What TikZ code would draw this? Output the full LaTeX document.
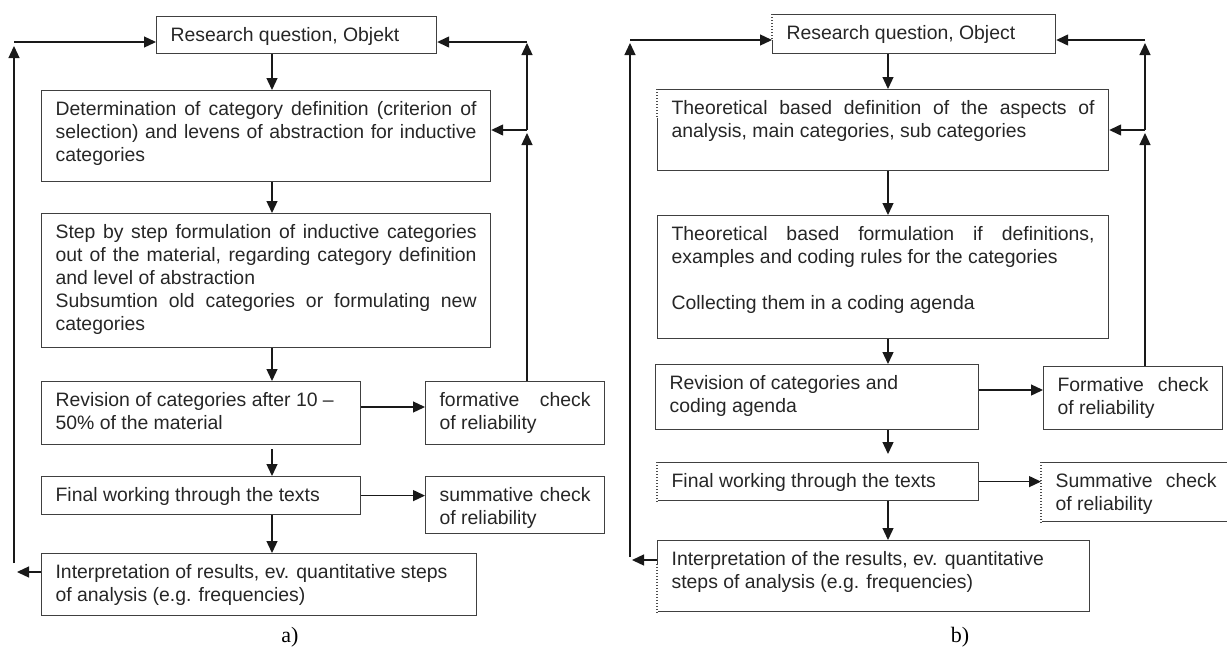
\documentclass[tikz,border=0pt]{standalone}
\usepackage{fontspec}
\setmainfont{Liberation Sans}
\newfontfamily\capfont{Liberation Serif}
\usepackage{tikz}
\usetikzlibrary{arrows.meta,calc}
\tolerance=10000
\hbadness=10000

% left edge of a box partly dotted (scan look of the original)
\newcommand{\dotedge}[3]{%
  \draw[white,line width=2pt] ($(#1.north west)!#2!(#1.south west)$) -- ($(#1.north west)!#3!(#1.south west)$);
  \draw[black!70,line width=1.1pt,dash pattern=on 1.2pt off 1.8pt] ($(#1.north west)!#2!(#1.south west)$) -- ($(#1.north west)!#3!(#1.south west)$);}

\begin{document}
\begin{tikzpicture}[
  x=1pt,y=-1pt,
  font=\fontsize{19.4}{23}\selectfont,
  box/.style={draw=black!75,line width=1.2pt,anchor=north west,align=justify,
    inner xsep=14pt,inner ysep=6pt,text height=19pt,text=black!85},
  flow/.style={->,line width=1.3pt,draw=black!90},
  capt/.style={font=\capfont\fontsize{22}{24}\selectfont,anchor=base},
  >={Triangle[length=12pt,width=11pt]}]
\useasboundingbox (0,0) rectangle (1227,646);

% a) inductive category development
\node[box,text width=252pt,text depth=6pt] (rqa) at (156,16) {Research question, Objekt};
\node[box,text width=421pt,text depth=60pt] (defa) at (41,90)
  {Determination of category definition (criterion of\linebreak selection) and levens of abstraction for inductive\linebreak categories};
\node[box,text width=421pt,text depth=103pt] (stpa) at (41,213)
  {Step by step formulation of inductive categories\linebreak out of the material, regarding category definition\linebreak and level of abstraction\\
   Subsumtion old categories or formulating new\linebreak categories};
\node[box,text width=291pt,text depth=32pt] (reva) at (41,381) {Revision of categories after 10 --\\ 50\% of the material};
\node[box,text width=151pt,text depth=32pt] (frma) at (425,381) {formative check\linebreak of reliability};
\node[box,text width=291pt,text depth=7pt] (fina) at (41,476) {Final working through the texts};
\node[box,text width=151pt,text depth=26pt] (suma) at (425,476) {summative check\linebreak of reliability};
\node[box,text width=407pt,text depth=31pt] (inta) at (41,553)
  {Interpretation of results, ev. quantitative steps\\ of analysis (e.g. frequencies)};
\node[capt] (capa) at (290,642) {a)};

\coordinate (cola) at (272,0);
\coordinate (topa) at (527,42);
\coordinate (mida) at (527,130);
\coordinate (lefta) at (14,42);
\coordinate (bota) at (14,563);
\coordinate (outa) at (17,572);
\coordinate (rfa) at (0,407);

\draw[flow] (rqa.south -| cola) -- (defa.north -| cola);
\draw[flow] (defa.south -| cola) -- (stpa.north -| cola);
\draw[flow] (stpa.south -| cola) -- (reva.north -| cola);
\draw[flow,shorten <=4pt] (reva.south -| cola) -- (fina.north -| cola);
\draw[flow] (fina.south -| cola) -- (inta.north -| cola);
\draw[flow] (reva.east |- rfa) -- (frma.west |- rfa);
\draw[flow] (fina.east) -- (suma.west |- fina.east);
\draw[flow] (frma.north -| mida) -- ([yshift=-3pt]mida);
\draw[flow] (mida) -- ([yshift=-1pt]topa);
\draw[flow] (topa) -- (topa -| rqa.east);
\draw[flow] (mida) -- (mida -| defa.east);
\draw[flow] (bota) -- ([yshift=-4pt]lefta);
\draw[flow] (lefta) -- (lefta -| rqa.west);
\draw[flow] (inta.west |- outa) -- (outa);

% b) deductive category application
\node[box,text width=255pt,text depth=8pt] (rqb) at (772,14) {Research question, Object};
\node[box,text width=423pt,text depth=50pt] (defb) at (657,89)
  {Theoretical based definition of the aspects of\linebreak analysis, main categories, sub categories};
\node[box,text width=423pt,text depth=92pt] (thb) at (657,215)
  {Theoretical based formulation if definitions,\linebreak examples and coding rules for the categories\\[23pt]
   Collecting them in a coding agenda};
\node[box,text width=295pt,text depth=34pt] (revb) at (655,364) {Revision of categories and\\ coding agenda};
\node[box,text width=151pt,text depth=32pt] (frmb) at (1043,366) {Formative check\linebreak of reliability};
\node[box,text width=293pt,text depth=7pt] (finb) at (657,462) {Final working through the texts};
\node[box,text width=161pt,text depth=28pt] (sumb) at (1041,462) {Summative check\linebreak of reliability};
\node[box,text width=404pt,text depth=40pt] (intb) at (657,540)
  {Interpretation of the results, ev. quantitative\\ steps of analysis (e.g. frequencies)};
\node[capt] (capb) at (960,642) {b)};

\dotedge{rqb}{0}{0.65}
\dotedge{defb}{0}{0.35}
\dotedge{finb}{0}{1}
\dotedge{sumb}{0}{1}
\dotedge{intb}{0.33}{1}

\coordinate (colb) at (888,0);
\coordinate (topb) at (1145,40);
\coordinate (midb) at (1145,130);
\coordinate (leftb) at (630,40);
\coordinate (botb) at (630,557);
\coordinate (outb) at (632,560);
\coordinate (rfb) at (0,390);

\draw[flow] (rqb.south -| colb) -- (defb.north -| colb);
\draw[flow] (defb.south -| colb) -- (thb.north -| colb);
\draw[flow] (thb.south -| colb) -- (revb.north -| colb);
\draw[flow,shorten >=8pt] (revb.south -| colb) -- (finb.north -| colb);
\draw[flow] (finb.south -| colb) -- (intb.north -| colb);
\draw[flow] (revb.east |- rfb) -- (frmb.west |- rfb);
\draw[flow] (finb.east) -- (sumb.west |- finb.east);
\draw[flow] (frmb.north -| midb) -- ([yshift=-3pt]midb);
\draw[flow] (midb) -- ([yshift=-3pt]topb);
\draw[flow] (topb) -- (topb -| rqb.east);
\draw[flow] (midb) -- (midb -| defb.east);
\draw[flow] (botb) -- ([yshift=-3pt]leftb);
\draw[flow] (leftb) -- (leftb -| rqb.west);
\draw[flow] (intb.west |- outb) -- (outb);
\end{tikzpicture}
\end{document}
